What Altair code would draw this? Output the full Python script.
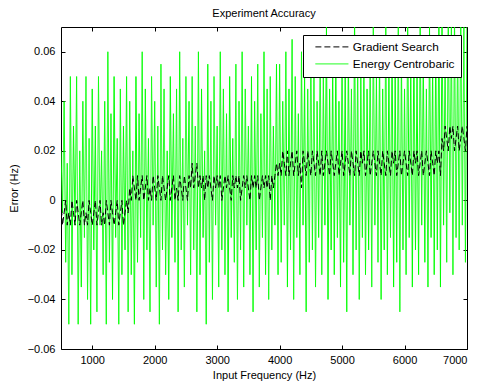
import altair as alt
import pandas as pd

F0, DF = 500, 25  # first frequency and spacing of samples (Hz)

series_names = ["Gradient Search", "Energy Centrobaric"]
series_colors = ["#000000", "#00ff00"]

# errors in thousandths of Hz, one per 25 Hz sample
gradient = [
    0, -10, -5, 0, -10, -5, -10, 0, -5, -10, 0, -5, -10, -5, 0, -10, -5, -10, 0, -5,
    -10, -5, 0, -10, -5, 0, -10, -5, -10, 0, -5, -10, 0, -5, -10, -5, 0, -10, -5, 0,
    -10, -5, 0, -5,
    5, 0, 10, 5, 0, 10, 0, 5, 10, 0, 5, 10, 0, 5, 0, 10, 5, 0, 10, 5,
    0, 10, 5, 0, 5, 10, 0, 5, 10, 0, 5, 0, 10, 5, 0, 10, 5, 0, 10, 5,
    15, 5, 10, 15, 5, 10, 5, 10, 0, 10, 5, 10, 5, 0, 10, 5, 10, 5, 10, 0,
    5, 10, 5, 10, 5, 0, 10, 5, 10, 5, 10, 0, 5, 10, 5, 10, 5, 0, 10, 5,
    10, 5, 10, 0, 5, 10, 5, 10, 5, 10, 0, 10, 5, 10, 15, 10,
    15, 10, 20, 15, 10, 20, 10, 15, 20, 10, 15, 20, 10, 15, 5, 20, 15, 10, 20, 15,
    10, 20, 15, 10, 20, 15, 10, 20, 10, 15, 20, 15, 10, 20, 15, 10, 15, 20, 10, 15,
    20, 10, 15, 20, 15, 10, 20, 15, 10, 20, 15, 10, 20, 15, 20, 10, 15, 20, 10, 15,
    20, 15, 10, 20, 15, 10, 20, 15, 10, 20, 15, 10, 20, 15, 20, 10, 15, 20, 10, 15,
    20, 15, 10, 20, 15, 10, 20, 15, 20, 10, 15, 20, 10, 15, 20, 15, 10, 20, 15, 10,
    20, 15, 20, 10,
    25, 20, 30, 25, 20, 30, 25, 30, 20, 25, 30, 20, 25, 30, 25, 20, 30,
]

energy = [
    20, -5, 40, -25, 15, -50, 50, -30, 30, -10, 50, -50, 20, -35, 40, -15, 50, -40, 25, -50,
    45, -20, 30, -45, 50, -10, 20, -30, 40, -50, 60, -25, 35, -40, 50, -15, 25, -50, 45, -30,
    30, -20, 50, -45,
    40, -30, 20, -50, 50, -25, 35, -15, 60, -40, 45, -20, 25, -45, 50, -10, 40, -35, 30, -50,
    55, -20, 45, -30, 20, -40, 50, -15, 35, -25, 45, -45, 60, -20, 25, -35, 50, -10, 40, -30,
    50, -20, 30, -45, 60, -30, 45, -15, 20, -50, 55, -25, 40, -40, 50, -10, 30, -35, 60, -20,
    45, -30, 35, -45, 50, -15, 25, -25, 55, -40, 40, -20, 60, -35, 45, -10, 30, -30, 50, -45,
    40, -20, 55, -35, 35, -15, 60, -30, 45, -40, 50, -20, 30, -10, 55, -30,
    55, -25, 40, -10, 60, -35, 45, -20, 65, -40, 50, -15, 35, -30, 60, -10, 50, -45, 45, -25,
    65, -20, 55, -35, 40, -15, 60, -30, 50, -10, 70, -40, 45, -20, 55, -30, 60, -15, 40, -35,
    65, -25, 50, -45, 60, -10, 45, -30, 75, -20, 55, -40, 50, -15, 65, -30, 45, -20, 60, -35,
    70, -10, 50, -25, 60, -40, 45, -20, 75, -30, 55, -15, 65, -35, 50, -25, 70, -45, 60, -20,
    45, -30, 75, -15, 55, -35, 65, -20, 50, -30, 75, -10, 60, -25, 45, -35, 70, -15, 55, -30,
    65, -20, 75, -35,
    75, -10, 60, -25, 80, -5, 70, -30, 75, -15, 65, -20, 80, -10, 70, -25, 75,
]

x_ticks = [1000, 2000, 3000, 4000, 5000, 6000, 7000]
y_ticks = [-0.06, -0.04, -0.02, 0, 0.02, 0.04, 0.06]


def frame(vals, name):
    return pd.DataFrame({
        "freq": [F0 + DF * i for i in range(len(vals))],
        "err": [v / 1000 for v in vals],
        "series": name,
    })


df_g = frame(gradient, series_names[0])
df_e = frame(energy, series_names[1])

W, H = 406, 322
FONT = "Liberation Sans"

x_scale = alt.Scale(domain=[500, 7000], nice=False, zero=False)
y_scale = alt.Scale(domain=[-0.06, 0.07], nice=False, zero=False)

y_label_expr = "format(datum.value, '.2f') == '0.00' ? '0' : format(datum.value, '.2f')"

color_enc = alt.Color(
    "series:N",
    scale=alt.Scale(domain=series_names, range=series_colors),
    legend=alt.Legend(
        title=None, orient="none", legendX=242, legendY=8,
        fillColor="white", strokeColor="black", padding=6,
        symbolType="M-3.3,0H3.3", symbolSize=100, symbolStrokeWidth=1,
        symbolOffset=17,
        labelFont=FONT, labelFontSize=11.8, labelColor="black",
        rowPadding=4, labelOffset=15,
    ),
)
dash_enc = alt.StrokeDash(
    "series:N",
    scale=alt.Scale(domain=series_names, range=[[6, 3], [1, 0]]),
    legend=None,
)

x_main = alt.X("freq:Q", scale=x_scale, title="Input Frequency (Hz)",
               axis=alt.Axis(values=x_ticks, ticks=False, domain=False, grid=False,
                             labelFont=FONT, labelFontSize=11, labelColor="black",
                             labelPadding=5, titleFont=FONT, titleFontSize=11,
                             titleFontWeight="normal", titleColor="black", titlePadding=4,
                             format="d"))
y_main = alt.Y("err:Q", scale=y_scale, title="Error (Hz)",
               axis=alt.Axis(values=y_ticks, ticks=False, domain=False, grid=False,
                             labelFont=FONT, labelFontSize=11, labelColor="black",
                             labelPadding=6, labelExpr=y_label_expr,
                             titleFont=FONT, titleFontSize=11,
                             titleFontWeight="normal", titleColor="black", titlePadding=8))

green = alt.Chart(df_e).mark_line(clip=True, strokeWidth=1).encode(
    x=x_main, y=y_main, color=color_enc, strokeDash=dash_enc,
)

tick_axis = dict(ticks=True, tickSize=4, tickColor="black", tickWidth=1,
                 labels=False, domain=False, grid=False, title=None)

black = alt.Chart(df_g).mark_line(clip=True, strokeWidth=1).encode(
    x=alt.X("freq:Q", scale=x_scale,
            axis=alt.Axis(orient="top", offset=-H, values=x_ticks, **tick_axis)),
    y=alt.Y("err:Q", scale=y_scale,
            axis=alt.Axis(orient="right", offset=-W, values=y_ticks, **tick_axis)),
    color=color_enc, strokeDash=dash_enc,
)

ghost = alt.Chart(df_g).mark_line(opacity=0).encode(
    x=alt.X("freq:Q", scale=x_scale,
            axis=alt.Axis(orient="bottom", offset=-H, values=x_ticks, **tick_axis)),
    y=alt.Y("err:Q", scale=y_scale,
            axis=alt.Axis(orient="left", offset=-W, values=y_ticks, **tick_axis)),
)

chart = alt.layer(green, black, ghost).resolve_axis(
    x="independent", y="independent"
).properties(
    width=W, height=H,
    title=alt.Title("Experiment Accuracy", font=FONT, fontSize=11,
                    fontWeight="normal", color="black", offset=8),
    autosize=alt.AutoSizeParams(type="none"),
    padding={"left": 53, "top": 19, "right": 7, "bottom": 33},
    background="white",
).configure_view(stroke="black", strokeWidth=1)

chart.save("out.html", embed_options={"renderer": "svg", "actions": False})
